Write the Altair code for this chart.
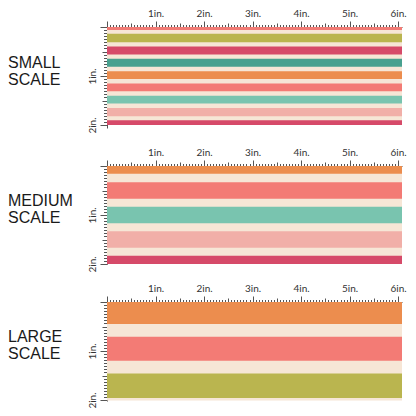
import altair as alt
import pandas as pd

# ---------------- data ----------------
scale_names = ["SMALL\nSCALE", "MEDIUM\nSCALE", "LARGE\nSCALE"]

CREAM = "#F6E6D6"
# stripe colours and extents (inches from the top edge of each swatch); first row is the cream ground
small_colors = [CREAM, "#F27B75", "#BAB54F", "#D64A69", "#48A18F", "#EC8D4E", "#F37B75", "#79C4AF", "#F1AFA8", "#D64A69"]
small_start = [0.00, 0.00, 0.14, 0.40, 0.65, 0.90, 1.15, 1.40, 1.65, 1.90]
small_end = [2.00, 0.06, 0.31, 0.56, 0.81, 1.06, 1.31, 1.56, 1.82, 2.00]

medium_colors = [CREAM, "#EC8D4E", "#F37B75", "#79C4AF", "#F1AFA8", "#D64A69"]
medium_start = [0.00, 0.00, 0.33, 0.83, 1.33, 1.83]
medium_end = [2.00, 0.16, 0.67, 1.17, 1.67, 2.00]

large_colors = [CREAM, "#EC8D4E", "#F37B75", "#BAB54F"]
large_start = [0.00, 0.00, 0.71, 1.46]
large_end = [2.01, 0.45, 1.20, 1.96]

stripe_length = 6.08  # inches

# ruler graduations (sixteenths of an inch)
x_ticks = [i / 16 for i in range(0, 97)]
y_ticks = [i / 16 for i in range(0, 33)]

RULER = "#555555"
LABEL_FONT = "Lato"


def tick_size(big, mid, small):
    return {
        "condition": [
            {"test": "datum.value % 1 == 0", "value": big},
            {"test": "datum.value % 0.5 == 0", "value": mid},
        ],
        "value": small,
    }


def panel(name, colors, starts, ends, y_max, height, text_y):
    df = pd.DataFrame({
        "color": colors,
        "y0": starts,
        "y1": ends,
        "x0": [0.0] * len(colors),
        "x1": [stripe_length] * len(colors),
    })
    x_axis = alt.Axis(
        orient="top", values=x_ticks, title=None, grid=False,
        tickSize=tick_size(6, 4, 2.5), tickColor=RULER, tickWidth=1,
        domainColor=RULER, domainWidth=1,
        labelExpr="datum.value % 1 == 0 && datum.value > 0 ? datum.value + 'in.' : ''",
        labelFont=LABEL_FONT, labelFontSize=10, labelColor="#333333",
        labelPadding=3, labelAngle=0, labelAlign="center", labelBaseline="bottom",
        labelFlush=False, labelOverlap=False, labelBound=False,
    )
    y_axis = alt.Axis(
        orient="left", values=y_ticks, title=None, grid=False,
        tickSize=tick_size(7, 5, 3.5), tickColor=RULER, tickWidth=1,
        domainColor=RULER, domainWidth=1,
        labelExpr="datum.value % 1 == 0 && datum.value > 0 ? datum.value + 'in.' : ''",
        labelFont=LABEL_FONT, labelFontSize=10, labelColor="#333333",
        labelPadding=3, labelAngle=270, labelAlign="center", labelBaseline="bottom",
        labelFlush=False, labelOverlap=False, labelBound=False,
    )
    rects = alt.Chart(df).mark_rect().encode(
        x=alt.X("x0:Q", scale=alt.Scale(domain=[0, stripe_length], nice=False, zero=False), axis=x_axis),
        x2="x1:Q",
        y=alt.Y("y0:Q", scale=alt.Scale(domain=[0, y_max], nice=False, zero=False, reverse=True), axis=y_axis),
        y2="y1:Q",
        color=alt.Color("color:N", scale=None),
    )
    label = alt.Chart(pd.DataFrame({"name": [name]})).mark_text(
        align="left", baseline="alphabetic", font="Liberation Sans", fontSize=16,
        lineBreak="\n", lineHeight=17, color="#1a1a1a",
    ).encode(
        text="name:N",
        x=alt.value(-99),
        y=alt.value(text_y),
    )
    return alt.layer(rects, label).properties(width=295, height=height)


p1 = panel(scale_names[0], small_colors, small_start, small_end, 2.06, 101, 41)
p2 = panel(scale_names[1], medium_colors, medium_start, medium_end, 2.00, 98, 40)
p3 = panel(scale_names[2], large_colors, large_start, large_end, 2.02, 99, 40)

chart = alt.vconcat(p1, p2, p3, spacing=38, bounds="flush", padding=0).configure_view(stroke=None)

chart.save("out.html", embed_options={"renderer": "svg", "actions": False})
